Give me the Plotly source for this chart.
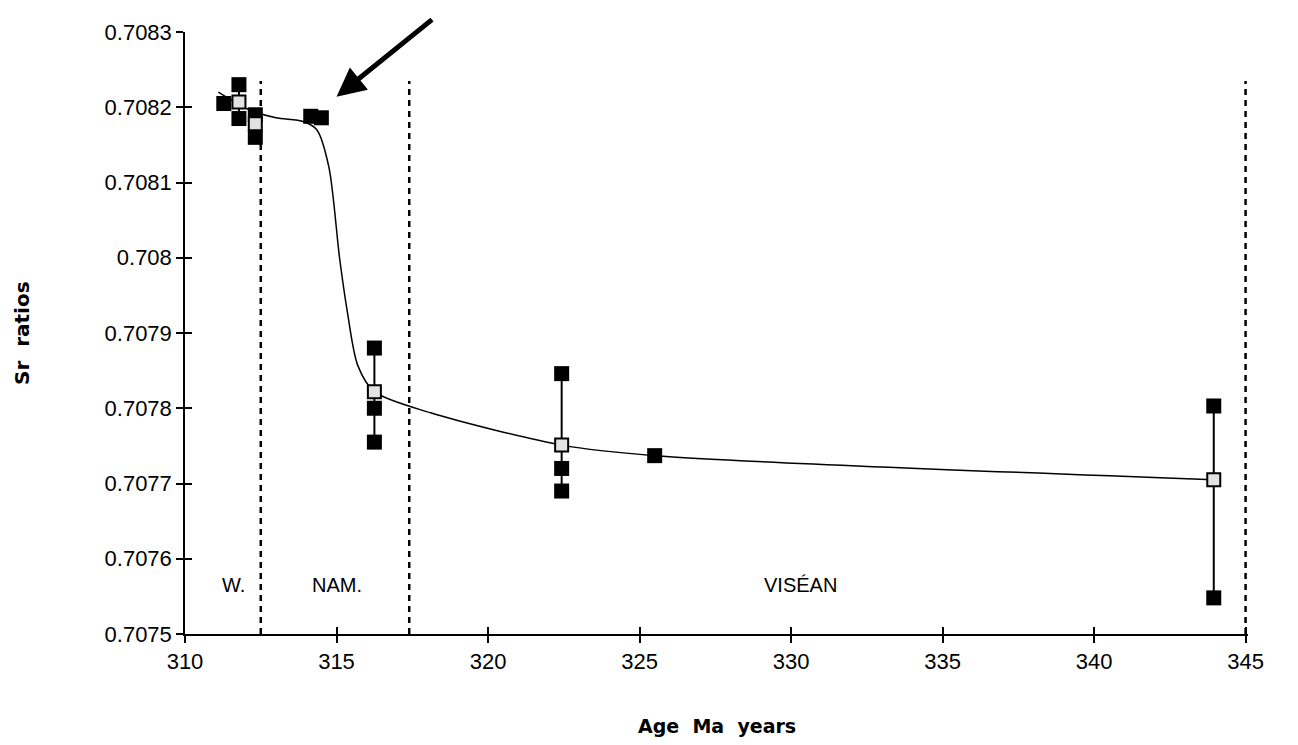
import plotly.graph_objects as go

# ---------------- data ----------------
sample_age = [311.28, 311.78, 311.78, 312.32, 312.32, 314.15, 314.5,
              316.25, 316.25, 316.25, 322.43, 322.43, 322.43, 325.5,
              343.95, 343.95]
sample_sr = [0.708205, 0.70823, 0.708185, 0.70819, 0.70816, 0.708188, 0.708186,
             0.70788, 0.70780, 0.707755, 0.707846, 0.70772, 0.70769, 0.707737,
             0.707803, 0.707548]

mean_age = [311.78, 312.32, 316.25, 322.43, 343.95]
mean_sr = [0.708207, 0.708178, 0.707822, 0.707751, 0.707705]

curve_age = [311.1, 312.1, 313.0, 313.9, 314.35, 314.75, 315.1, 315.35, 315.7,
             316.25, 318.1, 322.43, 325.5, 343.95]
curve_sr = [0.70822, 0.708197, 0.708186, 0.708181, 0.70817, 0.70812, 0.70800,
            0.70793, 0.707857, 0.707822, 0.707794, 0.707751, 0.707737, 0.707705]

boundary_age = [312.5, 317.4, 345.0]
boundary_top = 0.708235

stage_labels = ["W.", "NAM.", "VISÉAN"]
stage_label_age = [311.6, 315.0, 330.3]
stage_label_sr = 0.707565

x_ticks = [310, 315, 320, 325, 330, 335, 340, 345]
y_ticks = [0.7075, 0.7076, 0.7077, 0.7078, 0.7079, 0.708, 0.7081, 0.7082, 0.7083]
y_ticktext = ["0.7075", "0.7076", "0.7077", "0.7078", "0.7079", "0.708",
              "0.7081", "0.7082", "0.7083"]

arrow_tip = (315.0, 0.708214)
arrow_tail = (318.2, 0.708318)

# ---------------- figure ----------------
FONT = "Liberation Sans, Arial, sans-serif"
TITLE_FONT = "DejaVu Sans, sans-serif"
fig = go.Figure()

# range bars (vertical lines joining samples of the same age)
groups = {}
for a, s in zip(sample_age, sample_sr):
    groups.setdefault(a, []).append(s)
for a, vals in groups.items():
    if len(vals) > 1:
        fig.add_trace(go.Scatter(x=[a, a], y=[min(vals), max(vals)], mode="lines",
                                 line=dict(color="black", width=2),
                                 showlegend=False, hoverinfo="skip"))

# stage boundaries
for b in boundary_age:
    fig.add_trace(go.Scatter(x=[b, b], y=[y_ticks[0], boundary_top], mode="lines",
                             line=dict(color="black", width=2.5, dash="6px,5px"),
                             showlegend=False, hoverinfo="skip"))

# smoothed curve
fig.add_trace(go.Scatter(x=curve_age, y=curve_sr, mode="lines",
                         line=dict(color="black", width=1.5, shape="spline", smoothing=0.8),
                         showlegend=False))

# samples
fig.add_trace(go.Scatter(x=sample_age, y=sample_sr, mode="markers",
                         marker=dict(symbol="square", size=15, color="black"),
                         showlegend=False, cliponaxis=False))

# means
fig.add_trace(go.Scatter(x=mean_age, y=mean_sr, mode="markers",
                         marker=dict(symbol="square", size=13, color="#e2e2e2",
                                     line=dict(color="black", width=2)),
                         showlegend=False, cliponaxis=False))

# stage labels
for t, a in zip(stage_labels, stage_label_age):
    fig.add_annotation(x=a, y=stage_label_sr, text=t, showarrow=False,
                       font=dict(family=FONT, size=20, color="black"))

# arrow
fig.add_annotation(x=arrow_tip[0], y=arrow_tip[1], ax=arrow_tail[0], ay=arrow_tail[1],
                   xref="x", yref="y", axref="x", ayref="y", text="",
                   showarrow=True, arrowhead=2, arrowsize=1.15, arrowwidth=5,
                   arrowcolor="black")

# axis titles
fig.add_annotation(xref="paper", yref="paper", x=0.5, y=0, yshift=-92, yanchor="middle",
                   xanchor="center",
                   text="<b>Age\u00a0\u00a0Ma\u00a0\u00a0years</b>", showarrow=False,
                   font=dict(family=TITLE_FONT, size=19, color="black"))
fig.add_annotation(xref="paper", yref="paper", x=0, y=0.5, xshift=-163,
                   xanchor="center", yanchor="middle",
                   text="<b>Sr\u00a0\u00a0ratios</b>", textangle=-90, showarrow=False,
                   font=dict(family=TITLE_FONT, size=20, color="black"))

axis_common = dict(showgrid=False, zeroline=False, showline=True, linecolor="black",
                   linewidth=1.5, ticklen=7, tickwidth=1.5, tickcolor="black")

fig.update_layout(
    width=1298, height=745,
    margin=dict(l=177, r=58, t=15, b=119),
    paper_bgcolor="white", plot_bgcolor="white",
    font=dict(family=FONT, size=22, color="black"),
    xaxis=dict(range=[310, 345.08], tickvals=x_ticks, ticks="outside",
               tickfont=dict(size=22), **axis_common),
    yaxis=dict(range=[0.7075, 0.7083], tickvals=y_ticks, ticktext=y_ticktext,
               ticks="outside", tickfont=dict(size=22), **axis_common),
    xaxis2=dict(range=[310, 345.08], tickvals=x_ticks, ticks="inside", showticklabels=False,
                overlaying="x", anchor="y", **axis_common),
    yaxis2=dict(range=[0.7075, 0.7083], tickvals=y_ticks, ticks="inside",
                showticklabels=False, overlaying="y", anchor="x", **axis_common),
    showlegend=False,
)
# dummy trace to activate the overlay axes
fig.add_trace(go.Scatter(x=[None], y=[None], xaxis="x2", yaxis="y2", showlegend=False))

fig.write_html("out.html")
